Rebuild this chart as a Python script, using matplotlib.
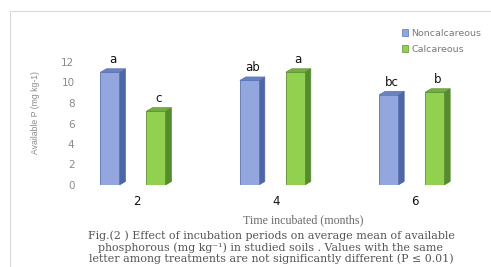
import matplotlib
matplotlib.use("Agg")
import matplotlib.pyplot as plt
from matplotlib.patches import Polygon, Patch
from matplotlib.lines import Line2D
import numpy as np

categories = ["2", "4", "6"]
series_names = ["Noncalcareous", "Calcareous"]
noncalcareous = [11.0, 10.2, 8.8]
calcareous = [7.2, 11.0, 9.05]
letters_non = ["a", "ab", "bc"]
letters_cal = ["c", "a", "b"]
yticks = [0, 2, 4, 6, 8, 10, 12]

W, H = 491, 267
fig = plt.figure(figsize=(W / 100, H / 100), dpi=100)
fig.patch.set_facecolor("white")

# axes placement (pixels -> fractions)
x_left_px, x_right_px = 80, 480
y0_px = 185
ppu = 10.25
ytop = 13.6
ax = fig.add_axes([x_left_px / W, (H - y0_px) / H,
                   (x_right_px - x_left_px) / W, ytop * ppu / H])
ax.set_xlim(-0.38, 2.49)
ax.set_ylim(0, ytop)

x = np.arange(len(categories))
bw = 0.136
off = 0.165
dx = 0.043
dy = 0.34

styles = [
    dict(front="#93a7de", edge="#5a73b3", side="#4d66a6", top="#6a82c2"),
    dict(front="#92d050", edge="#5d8f34", side="#558a2e", top="#74b040"),
]

for s, (vals, letters, st) in enumerate(zip([noncalcareous, calcareous],
                                           [letters_non, letters_cal], styles)):
    xs = x + (-off if s == 0 else off)
    ax.bar(xs, vals, width=bw, color=st["front"], edgecolor=st["edge"],
           linewidth=0.6, zorder=3)
    for xc, v, lt in zip(xs, vals, letters):
        r = xc + bw / 2
        l = xc - bw / 2
        side = Polygon([(r, 0), (r + dx, dy), (r + dx, v + dy), (r, v)],
                       closed=True, facecolor=st["side"], edgecolor=st["side"],
                       linewidth=0.5, zorder=2)
        top = Polygon([(l, v), (l + dx, v + dy), (r + dx, v + dy), (r, v)],
                      closed=True, facecolor=st["top"], edgecolor=st["edge"],
                      linewidth=0.5, zorder=4)
        ax.add_patch(side)
        ax.add_patch(top)
        ax.annotate(lt, (xc + dx / 2, v + dy), xytext=(0, 2),
                    textcoords="offset points", ha="center", va="bottom",
                    fontsize=8.5, color="#111111", family="DejaVu Sans")

for sp in ax.spines.values():
    sp.set_visible(False)
ax.set_yticks(yticks)
ax.set_yticklabels([str(t) for t in yticks])
ax.tick_params(axis="y", length=0, pad=4, labelsize=7.5, labelcolor="#8a8a8a")
ax.set_xticks(x + 0.025)
ax.set_xticklabels(categories)
ax.tick_params(axis="x", length=0, pad=7, labelsize=8.5, labelcolor="#111111")
ax.set_facecolor("none")

# y label
fig.text(36 / W, 1 - 112 / H, "Available P (mg kg-1)", rotation=90,
         ha="center", va="center", fontsize=6.2, color="#8a8a8a",
         family="Liberation Sans")

# x label
fig.text(303 / W, 1 - 220 / H, "Time incubated (months)", ha="center",
         va="center", fontsize=8.6, color="#6a6a6a", family="Liberation Serif")

# caption (three lines)
cap_lines = ["Fig.(2 ) Effect of incubation periods on average mean of available",
             "phosphorous (mg kg\u207b\u00b9) in studied soils . Values with the same",
             "letter among treatments are not significantly different (P \u2264 0.01)"]
for i, line in enumerate(cap_lines):
    fig.text(271 / W, 1 - (236 + 11.5 * i) / H, line, ha="center",
             va="center", fontsize=7.9, color="#555555",
             family=["DejaVu Serif"])

# legend
handles = [Patch(facecolor=styles[0]["front"], edgecolor=styles[0]["edge"], linewidth=0.5),
           Patch(facecolor=styles[1]["front"], edgecolor=styles[1]["edge"], linewidth=0.5)]
fig.legend(handles, series_names, loc="upper left",
           bbox_to_anchor=(395 / W, 1 - 22 / H), frameon=False,
           fontsize=6.8, labelcolor="#7a7a7a", handlelength=0.7,
           handleheight=0.7, handletextpad=0.3, labelspacing=0.75,
           borderpad=0.2)

# faint outer frame like the original page
fig.add_artist(Line2D([10 / W, 1], [1 - 11 / H, 1 - 11 / H],
                      color="#d9d9d9", linewidth=0.8))
fig.add_artist(Line2D([10 / W, 10 / W], [0, 1 - 11 / H],
                      color="#d9d9d9", linewidth=0.8))

fig.savefig("out.png", dpi=100, facecolor="white")
